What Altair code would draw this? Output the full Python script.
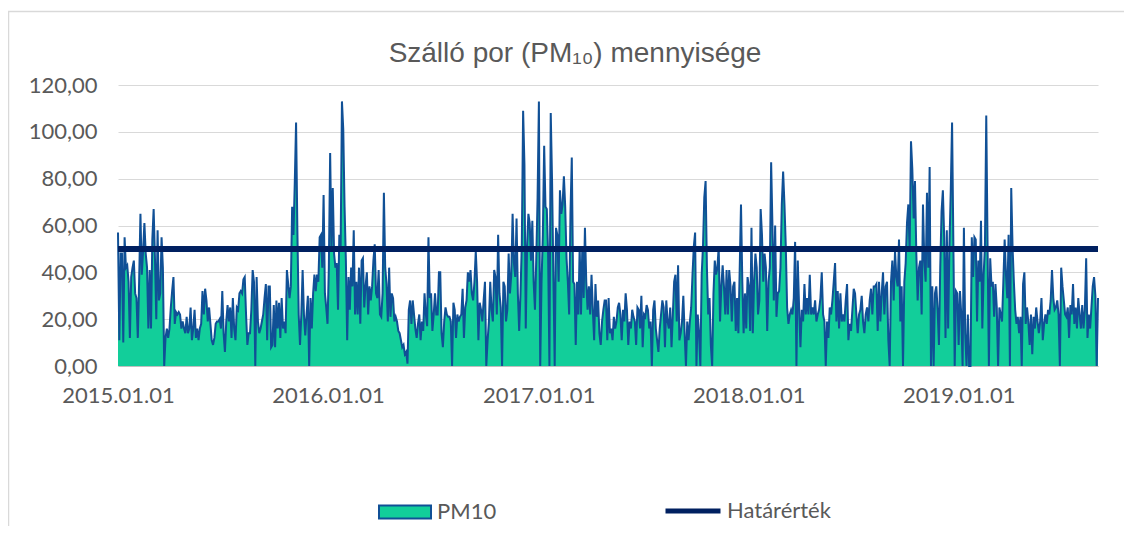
import altair as alt
import pandas as pd

seg_bounds = ["2015-01-01", "2015-10-01", "2016-07-14", "2017-04-28",
              "2018-02-09", "2018-11-23", "2019-08-31"]

pm10_seg1 = [57, 11, 48, 48, 10, 55, 42, 43, 36, 12,
             38, 42, 45, 31, 29, 12, 36, 65, 39, 49,
             61, 48, 42, 16, 41, 16, 54, 67, 46, 20,
             58, 28, 31, 55, 42, 0, 12, 16, 12, 16,
             25, 32, 38, 18, 23, 22, 23, 22, 16, 19,
             16, 14, 21, 14, 16, 25, 11, 16, 24, 12,
             16, 11, 16, 18, 32, 22, 33, 28, 19, 25,
             18, 11, 9, 12, 18, 19, 19, 20, 16, 32,
             14, 6, 19, 26, 19, 25, 12, 29, 16, 11,
             25, 24, 31, 32, 31, 37, 38, 22, 9, 14,
             14, 24, 41, 36, 0, 38, 19, 14, 16, 19,
             22, 29, 35, 11, 34, 34, 8, 9, 26]

pm10_seg2 = [8, 28, 16, 27, 12, 29, 16, 19, 14, 41,
             35, 29, 34, 68, 56, 78, 104, 58, 22, 9,
             22, 41, 22, 13, 22, 30, 0, 29, 16, 31,
             39, 32, 39, 36, 55, 56, 42, 73, 31, 25,
             18, 42, 91, 51, 76, 48, 42, 44, 24, 56,
             51, 113, 101, 68, 45, 11, 38, 24, 42, 34,
             58, 22, 36, 22, 42, 18, 45, 46, 25, 34,
             40, 22, 34, 28, 34, 45, 52, 31, 29, 41,
             22, 21, 31, 74, 42, 35, 19, 42, 21, 31,
             29, 19, 21, 19, 15, 14, 11, 8, 9, 5,
             6, 1, 24, 28, 18, 28, 22, 16, 12, 18,
             22, 11, 19, 15, 31, 22, 17, 55, 29, 31,
             15, 22, 31, 22, 22, 40]

pm10_seg3 = [40, 14, 8, 19, 25, 22, 21, 21, 19, 0,
             27, 24, 12, 22, 19, 21, 22, 33, 12, 25,
             28, 40, 36, 41, 31, 28, 36, 49, 36, 11,
             27, 24, 19, 28, 36, 0, 11, 19, 36, 24,
             19, 41, 38, 22, 56, 31, 25, 0, 36, 34,
             19, 24, 48, 31, 39, 65, 44, 38, 63, 31,
             15, 31, 52, 109, 86, 16, 51, 65, 61, 45,
             62, 36, 24, 46, 72, 113, 0, 36, 56, 94,
             68, 67, 48, 0, 108, 79, 39, 0, 59, 56,
             36, 75, 65, 69, 81, 68, 46, 36, 22, 65,
             89, 36, 35, 9, 36, 22, 51, 22, 51, 29,
             59, 36, 24, 34, 22, 39, 24, 11, 35, 21,
             28, 14, 9, 19, 24, 28]

pm10_seg4 = [28, 11, 29, 14, 16, 11, 21, 16, 19, 25,
             27, 22, 11, 24, 19, 31, 24, 9, 19, 16,
             24, 21, 19, 9, 25, 24, 16, 30, 8, 22,
             21, 26, 24, 16, 19, 0, 24, 28, 16, 11,
             6, 16, 22, 28, 25, 8, 28, 19, 16, 25,
             8, 22, 36, 39, 19, 43, 11, 14, 19, 30,
             14, 0, 19, 11, 19, 25, 39, 51, 57, 0,
             22, 14, 0, 39, 51, 72, 79, 42, 22, 29,
             9, 0, 31, 45, 39, 42, 51, 19, 34, 43,
             34, 22, 41, 22, 41, 34, 19, 34, 36, 15,
             29, 14, 41, 69, 36, 14, 31, 16, 38, 34,
             15, 59, 14, 36, 48, 42, 22, 28, 67, 56,
             36, 48, 42, 15, 36, 42]

pm10_seg5 = [87, 59, 28, 60, 21, 31, 32, 42, 69, 83,
             69, 51, 25, 18, 22, 24, 22, 29, 53, 0,
             45, 25, 8, 24, 19, 35, 22, 29, 22, 39,
             22, 25, 22, 28, 19, 22, 24, 29, 40, 22,
             19, 0, 19, 12, 25, 22, 28, 36, 44, 19,
             32, 16, 31, 19, 22, 19, 28, 35, 11, 18,
             15, 24, 33, 31, 22, 14, 22, 24, 30, 19,
             14, 22, 25, 19, 28, 33, 22, 34, 34, 35,
             15, 36, 19, 31, 40, 22, 34, 36, 11, 0,
             36, 45, 28, 49, 38, 34, 54, 19, 34, 0,
             36, 44, 61, 69, 49, 96, 84, 63, 79, 48,
             28, 42, 45, 22, 69, 45, 36, 74, 42, 85,
             0, 34, 0, 31]

pm10_seg6 = [34, 24, 9, 42, 66, 75, 55, 12, 58, 16,
             51, 75, 104, 51, 0, 32, 31, 9, 32, 22,
             0, 59, 14, 0, 22, 0, 0, 55, 38, 55,
             54, 19, 45, 36, 62, 16, 39, 51, 107, 51,
             0, 46, 34, 36, 21, 35, 25, 0, 25, 22,
             19, 36, 54, 39, 29, 56, 0, 76, 51, 36,
             24, 18, 21, 14, 21, 0, 35, 40, 18, 25,
             19, 9, 22, 5, 21, 16, 25, 19, 14, 19,
             29, 11, 18, 22, 18, 24, 22, 28, 41, 29,
             24, 25, 28, 22, 0, 42, 34, 28, 22, 21,
             25, 12, 26, 22, 35, 18, 25, 16, 29, 22,
             16, 26, 16, 24, 46, 12, 22, 16, 25, 34,
             38, 30, 0, 29]

limit_name = ["Határérték"]
limit_value = [50]
year_ticks = [2015, 2016, 2017, 2018, 2019]
y_ticks = [0, 20, 40, 60, 80, 100, 120]

GREEN = "#12CE9A"
BLUE = "#105096"
NAVY = "#002060"
GRID = "#D9D9D9"
TEXT = "#595959"

segments = [pm10_seg1, pm10_seg2, pm10_seg3, pm10_seg4, pm10_seg5, pm10_seg6]
dates, vals = [], []
for i, seg in enumerate(segments):
    last = i == len(segments) - 1
    ts = pd.date_range(seg_bounds[i], seg_bounds[i + 1],
                       periods=len(seg) + (0 if last else 1))
    if not last:
        ts = ts[:-1]
    dates.extend(ts)
    vals.extend(seg)

df = pd.DataFrame({"date": dates, "value": vals, "series": "PM10"})
df["date"] = df["date"].dt.strftime("%Y-%m-%dT%H:%M:%S")
thr = pd.DataFrame({"name": limit_name, "value": limit_value})

x_enc = alt.X(
    "date:T",
    scale=alt.Scale(domain=[alt.DateTime(year=2015, month=1, date=1),
                            alt.DateTime(year=2019, month=8, date=31)], nice=False),
    axis=alt.Axis(
        values=[alt.DateTime(year=y, month=1, date=1) for y in year_ticks],
        format="%Y.%m.%d", title=None, grid=False, ticks=False,
        domain=True, domainColor="#BFBFBF", domainWidth=1,
        labelFont="Lato", labelFontSize=22, labelColor=TEXT,
        labelPadding=19, labelFlush=False, labelOverlap=False,
    ),
)
y_enc = alt.Y(
    "value:Q",
    scale=alt.Scale(domain=[0, 120], nice=False),
    axis=alt.Axis(
        values=y_ticks, title=None, grid=True, gridColor=GRID, gridWidth=1,
        domain=False, ticks=False,
        labelExpr="replace(format(datum.value, '.2f'), '.', ',')",
        labelFont="Lato", labelFontSize=22, labelColor=TEXT, labelPadding=21,
    ),
)

# light chart-area frame (decoration only)
frame = alt.Chart(pd.DataFrame({"k": [0]})).mark_rect(
    fill=None, stroke=GRID, strokeWidth=1.5
).encode(
    x=alt.value(-109.5), x2=alt.value(1100), y=alt.value(-73.5), y2=alt.value(480)
)

area = alt.Chart(df).mark_area(opacity=1, interpolate="linear").encode(
    x=x_enc,
    y=y_enc,
    fill=alt.Fill(
        "series:N",
        scale=alt.Scale(domain=["PM10"], range=[GREEN]),
        legend=alt.Legend(
            title=None, orient="none", legendX=260, legendY=400,
            symbolType="M-1,-0.25H1V0.25H-1Z", symbolSize=2704,
            symbolStrokeColor=BLUE, symbolStrokeWidth=2, symbolOpacity=1,
            labelFont="Lato", labelFontSize=22, labelColor=TEXT, labelOffset=5,
        ),
    ),
)

line = alt.Chart(df).mark_line(color=BLUE, strokeWidth=2, interpolate="linear").encode(
    x="date:T", y="value:Q"
)

rule = alt.Chart(thr).mark_rule(strokeWidth=6).encode(
    y="value:Q",
    stroke=alt.Stroke(
        "name:N",
        scale=alt.Scale(domain=limit_name, range=[NAVY]),
        legend=alt.Legend(
            title=None, orient="none", legendX=545, legendY=396,
            symbolType="stroke", symbolSize=3025, symbolStrokeWidth=5,
            labelFont="Lato", labelFontSize=22, labelColor=TEXT, labelOffset=4,
        ),
    ),
)

chart = (
    alt.layer(area, line, rule, frame)
    .resolve_legend(fill="independent", stroke="independent")
    .properties(
        width=980,
        height=281,
        autosize=alt.AutoSizeParams(type="none"),
        padding={"left": 110, "top": 77, "right": 26, "bottom": 160},
        background="white",
        title=alt.Title(
            "Szálló por (PM₁₀) mennyisége",
            font="Liberation Sans", fontSize=28, fontWeight="normal",
            color=TEXT, anchor="middle", dx=-33, dy=101, offset=22,
            baseline="alphabetic",
        ),
    )
    .configure_view(stroke=None)
)

chart.save("out.html", embed_options={"renderer": "svg", "actions": False})
